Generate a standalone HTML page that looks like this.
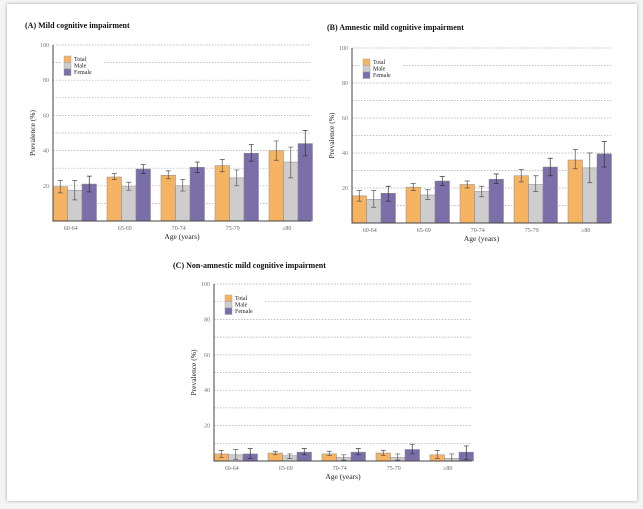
<!DOCTYPE html>
<html><head><meta charset="utf-8"><style>
body{margin:0;background:#f4f4f4;font-family:"Liberation Serif",serif;}
#card{position:absolute;left:7px;top:4px;width:630px;height:497px;background:#fff;box-shadow:0 0 3px rgba(0,0,0,0.35);}
svg{position:absolute;left:0;top:0;}
text{font-family:"Liberation Serif",serif;}
</style></head><body>
<div id="card"></div>
<svg id="chart" width="643" height="509"></svg>
<script>
const categories=["60-64","65-69","70-74","75-79","\u226580"];
const seriesNames=["Total","Male","Female"];
const yTicks=[20,40,60,80,100];
// Panel A
const aTotal=[19.5,25,26,31.5,40], aTotalLo=[16,23.5,24,28,34.5], aTotalHi=[23,27,28.5,35,45.5];
const aMale=[17.5,19.5,20,24.5,33.5], aMaleLo=[12,17.5,17,20,24.5], aMaleHi=[23,22,23.5,29,42];
const aFemale=[21,29.5,30.5,38.5,44], aFemaleLo=[16.5,27,27.5,34,37], aFemaleHi=[25.5,32,33.5,43.5,51.5];
// Panel B
const bTotal=[15.5,20.5,22,27,36], bTotalLo=[12.5,18.5,20,23.5,31], bTotalHi=[18.5,22.5,24,30.5,42];
const bMale=[13.5,16,18,22,31.5], bMaleLo=[9,13.5,15,18,23], bMaleHi=[18.5,19,21,27,40];
const bFemale=[17,24,25,32,39.5], bFemaleLo=[12.5,21.5,22.5,27,32], bFemaleHi=[21,26.5,28,37,46.5];
// Panel C
const cTotal=[4,4.5,4,4.5,3.5], cTotalLo=[2,3.5,3,3,1.5], cTotalHi=[6,5.5,5.5,6,6];
const cMale=[3.5,3,2,2,1.5], cMaleLo=[1,1.5,0.5,0.5,0], cMaleHi=[6.5,4,3.5,4,4];
const cFemale=[4,5,5,6.5,5], cFemaleLo=[1.5,3.5,3.5,4,1], cFemaleHi=[7,7,7,9.5,8.5];

const colors=["#f6b462","#cdcdcd","#7c6fa9"];
const svg=document.getElementById('chart');
const NS="http://www.w3.org/2000/svg";
function mk(tag,attrs,parent){const e=document.createElementNS(NS,tag);for(const k in attrs)e.setAttribute(k,attrs[k]);(parent||svg).appendChild(e);return e;}

function panel(id,title,tx,ty,x0,y0,y100,x1,vals,los,his){
  const g=mk('g',{});
  
  
  const yS=v=>y0-(y0-y100)*v/100;
  const step=54,bw=14.5;
  const gx=i=>x0+i*step;
  const t=mk('text',{x:tx,y:ty,'font-size':8,'font-weight':'bold',fill:'#111'},g);t.textContent=title;
  
  for(let v=10;v<=100;v+=10){const l=mk('line',{x1:x0,x2:x1,y1:yS(v),y2:yS(v),stroke:'#aaa','stroke-width':0.7,'stroke-dasharray':'1.5,1.5'},g);
    }
  yTicks.forEach(v=>{const tt=mk('text',{x:x0-4,y:yS(v)+2,'font-size':6,fill:'#777','text-anchor':'end'},g);tt.textContent=v;
    });
  const lg=mk('g',{},g);
  const lx=x0+11,ly=y100+11;
  mk('rect',{x:lx-3,y:ly-1,width:42,height:22,fill:'#fff'},lg);
  seriesNames.forEach((n,k)=>{
    const r=mk('rect',{x:lx,y:ly+k*6.5,width:7,height:6.5,fill:colors[k],stroke:'#999','stroke-width':0.4},lg);
    
    const tt=mk('text',{x:lx+10,y:ly+k*6.5+5,'font-size':6,fill:'#222'},lg);tt.textContent=n;
    
  });
  for(let i=0;i<categories.length;i++){
    for(let k=0;k<3;k++){
      const x=gx(i)+k*bw,v=vals[k][i];
      const b=mk('rect',{x:x,y:yS(v),width:bw,height:y0-yS(v),fill:colors[k],stroke:'#888','stroke-width':0.5},g);
      
      const cx=x+bw/2,ec=k==2?'#333':'#555';
      const e=mk('path',{d:`M${cx},${yS(los[k][i])}V${yS(his[k][i])}M${cx-2.5},${yS(los[k][i])}H${cx+2.5}M${cx-2.5},${yS(his[k][i])}H${cx+2.5}`,stroke:ec,'stroke-width':0.7,fill:'none'},g);
      
    }
    const c=mk('text',{x:gx(i)+bw*1.5-4,y:y0+9,'font-size':6,fill:'#666','text-anchor':'middle'},g);c.textContent=categories[i];
    
  }
  const ax=mk('path',{d:`M${x0},${y100}V${y0}H${x1}`,stroke:'#444','stroke-width':1,fill:'none'},g);
  
  const xt=mk('text',{x:(x0+x1)/2,y:y0+18,'font-size':7.5,fill:'#222','text-anchor':'middle'},g);xt.textContent='Age (years)';
  
  const ym=(y0+y100)/2;
  const yt=mk('text',{x:x0-18,y:ym,'font-size':7.5,fill:'#222','text-anchor':'middle',transform:`rotate(-90 ${x0-18} ${ym})`},g);yt.textContent='Prevalence (%)';
  
}
panel('a','(A) Mild cognitive impairment',25,28,53,221,45,311,[aTotal,aMale,aFemale],[aTotalLo,aMaleLo,aFemaleLo],[aTotalHi,aMaleHi,aFemaleHi]);
panel('b','(B) Amnestic mild cognitive impairment',327,30,352,223,48,611,[bTotal,bMale,bFemale],[bTotalLo,bMaleLo,bFemaleLo],[bTotalHi,bMaleHi,bFemaleHi]);
panel('c','(C) Non-amnestic mild cognitive impairment',173,268,214,461,284,472,[cTotal,cMale,cFemale],[cTotalLo,cMaleLo,cFemaleLo],[cTotalHi,cMaleHi,cFemaleHi]);
</script>
</body></html>
